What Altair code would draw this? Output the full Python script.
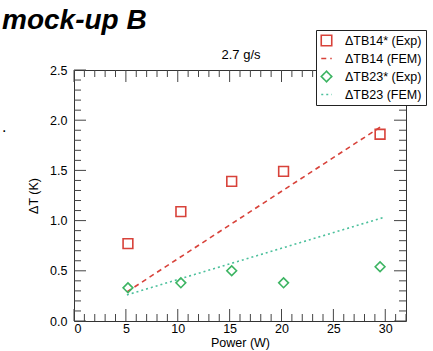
import altair as alt
import pandas as pd

# ---- data ----
series_order = ["ΔTB14* (Exp)", "ΔTB14 (FEM)", "ΔTB23* (Exp)", "ΔTB23 (FEM)"]

power_exp = [5.2, 10.3, 15.2, 20.2, 29.5]
tb14_exp = [0.77, 1.09, 1.39, 1.49, 1.86]
tb23_exp = [0.33, 0.38, 0.50, 0.38, 0.54]

power_fem = [5.1, 29.8]
tb14_fem = [0.29, 1.95]
tb23_fem = [0.26, 1.03]

x_major = [0, 5, 10, 15, 20, 25, 30]
x_minor = [v for v in range(0, 33) if v % 5 != 0]
y_major = [0.0, 0.5, 1.0, 1.5, 2.0, 2.5]
y_minor = [round(i / 10, 1) for i in range(0, 26) if i % 5 != 0]

RED = "#d8423a"
GREEN = "#3cb462"
TEAL = "#4cc09c"
FONT = "Liberation Sans"
W, H = 332, 251

exp_df = pd.DataFrame({
    "x": power_exp * 2,
    "y": tb14_exp + tb23_exp,
    "series": [series_order[0]] * len(power_exp) + [series_order[2]] * len(power_exp),
})
fem_df = pd.DataFrame({
    "x": power_fem * 2,
    "y": tb14_fem + tb23_fem,
    "series": [series_order[1]] * len(power_fem) + [series_order[3]] * len(power_fem),
})

x_enc = alt.X("x:Q", scale=alt.Scale(domain=[0, 32], nice=False, zero=False),
              axis=alt.Axis(title="Power (W)", values=x_major, format="d",
                            titleFontWeight="normal"))
y_enc = alt.Y("y:Q", scale=alt.Scale(domain=[0, 2.5], nice=False, zero=False),
              axis=alt.Axis(title="ΔT (K)", values=y_major, format=".1f",
                            titleFontWeight="normal"))

leg = alt.Legend(title=None, orient="none", legendX=242, legendY=-40)
color = alt.Color("series:N", scale=alt.Scale(domain=series_order, range=[RED, RED, GREEN, TEAL]),
                  legend=leg)
shape = alt.Shape("series:N", scale=alt.Scale(domain=series_order,
                  range=["square", "stroke", "diamond", "stroke"]), legend=leg)
dash = alt.StrokeDash("series:N", scale=alt.Scale(domain=series_order,
                      range=[[1, 0], [5, 4], [1, 0], [2, 3]]), legend=leg)

points = alt.Chart(exp_df).mark_point(filled=False, strokeWidth=1.6, opacity=1, size=95).encode(
    x=x_enc, y=y_enc, color=color, shape=shape)

lines = alt.Chart(fem_df).mark_line(strokeWidth=1.6).encode(
    x=x_enc, y=y_enc, color=color, strokeDash=dash, detail="series:N")


def xticks(vals, length):
    df = pd.DataFrame({"x": vals})
    bottom = alt.Chart(df).mark_rule(color="#444", strokeWidth=1).encode(
        x=x_enc, y=alt.value(H), y2=alt.value(H - length))
    top = alt.Chart(df).mark_rule(color="#444", strokeWidth=1).encode(
        x=x_enc, y=alt.value(0), y2=alt.value(length))
    return [bottom, top]


def yticks(vals, length):
    df = pd.DataFrame({"y": vals})
    left = alt.Chart(df).mark_rule(color="#444", strokeWidth=1).encode(
        y=y_enc, x=alt.value(0), x2=alt.value(length))
    right = alt.Chart(df).mark_rule(color="#444", strokeWidth=1).encode(
        y=y_enc, x=alt.value(W), x2=alt.value(W - length))
    return [left, right]


one = alt.Data(values=[{}])
flow_label = alt.Chart(one).mark_text(font=FONT, fontSize=13, color="black", align="center",
                                      baseline="middle").encode(
    x=alt.value(W / 2 + 1), y=alt.value(-15), text=alt.value("2.7 g/s"))
big_label = alt.Chart(one).mark_text(font=FONT, fontSize=28, fontWeight="bold", fontStyle="italic",
                                     color="black", align="left", baseline="alphabetic").encode(
    x=alt.value(-72), y=alt.value(-41), text=alt.value("mock-up B"))
dot = alt.Chart(one).mark_text(font=FONT, fontSize=16, color="black", align="left",
                               baseline="alphabetic").encode(
    x=alt.value(-72), y=alt.value(62), text=alt.value("."))

layers = (xticks(x_major, 12) + xticks(x_minor, 7) + yticks(y_major, 12) + yticks(y_minor, 7)
          + [lines, points, flow_label, big_label, dot])

chart = alt.layer(*layers).properties(
    width=W, height=H,
    background="white",
    autosize=alt.AutoSizeParams(type="none"),
    padding={"left": 74, "top": 70, "right": 27, "bottom": 30},
).configure_view(stroke="#333", strokeWidth=1).configure_axis(
    domain=False, ticks=False, grid=False,
    labelFont=FONT, labelFontSize=12.5, labelColor="black",
    titleFont=FONT, titleFontSize=12.5, titleColor="black", titleFontWeight="normal",
).configure_axisX(labelPadding=1, titlePadding=2).configure_axisY(
    labelPadding=7, titlePadding=9).configure_legend(
    fillColor="white", strokeColor="#222", padding=4,
    labelFont=FONT, labelFontSize=12.5, labelColor="black",
    symbolStrokeWidth=1.6, symbolSize=110, rowPadding=3, labelOffset=12,
)

chart.save("out.html", embed_options={"renderer": "svg", "actions": False})
